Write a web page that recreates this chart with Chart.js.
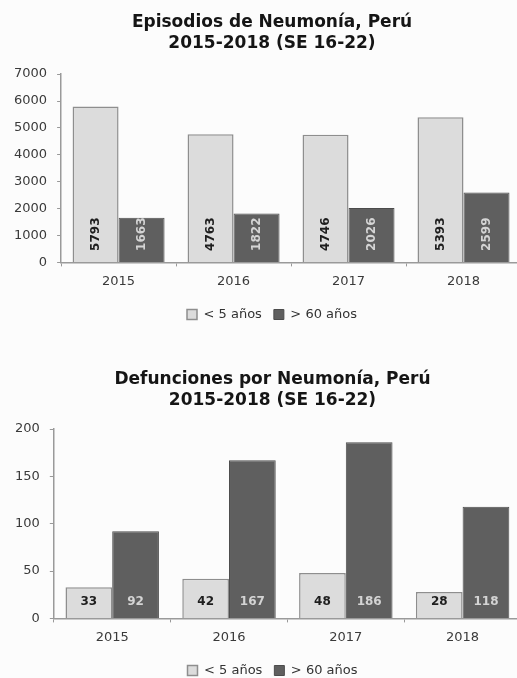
<!DOCTYPE html>
<html>
<head>
<meta charset="utf-8">
<script src="https://cdn.jsdelivr.net/npm/chart.js@4.4.1/dist/chart.umd.min.js"></script>
<style>
  html, body { margin: 0; padding: 0; background: #fcfcfc; overflow: hidden; width: 517px; height: 678px; position: relative; }
  .box { position: absolute; left: 0; width: 540px; }
  #b1 { top: 0; height: 331px; }
  #b2 { top: 330px; height: 357px; }
</style>
</head>
<body>
<div class="box" id="b1"><canvas id="c1"></canvas></div>
<div class="box" id="b2"><canvas id="c2"></canvas></div>
<script>
const years = ['2015', '2016', '2017', '2018'];
const seriesNames = ['< 5 años', '> 60 años'];
const episodiosMenor5 = [5793, 4763, 4746, 5393];
const episodiosMayor60 = [1663, 1822, 2026, 2599];
const defuncionesMenor5 = [33, 42, 48, 28];
const defuncionesMayor60 = [92, 167, 186, 118];
const episodiosTicks = [0, 1000, 2000, 3000, 4000, 5000, 6000, 7000];
const defuncionesTicks = [0, 50, 100, 150, 200];
const title1 = ['Episodios de Neumonía, Perú', '2015-2018 (SE 16-22)'];
const title2 = ['Defunciones por Neumonía, Perú', '2015-2018 (SE 16-22)'];

const LIGHT = '#dcdcdc', LIGHT_B = '#8e8e8e', DARK = '#5f5f5f', DARK_B = '#4c4c4c';
const TICKF = { family: 'DejaVu Sans', size: 13 };

function labelPlugin(rotated) {
  return {
    id: 'barLabels',
    afterDatasetsDraw(chart) {
      const ctx = chart.ctx;
      chart.data.datasets.forEach((ds, di) => {
        const meta = chart.getDatasetMeta(di);
        meta.data.forEach((bar, i) => {
          const v = ds.data[i];
          ctx.save();
          ctx.fillStyle = di === 0 ? '#1e1e1e' : '#d4d4d4';
          ctx.font = 'bold 12px "DejaVu Sans"';
          if (rotated) {
            ctx.translate(bar.x, bar.base - 11);
            ctx.rotate(-Math.PI / 2);
            ctx.textAlign = 'left';
            ctx.textBaseline = 'middle';
            ctx.fillText(String(v), 0, 0);
          } else {
            ctx.textAlign = 'center';
            ctx.textBaseline = 'middle';
            ctx.fillText(String(v), bar.x, bar.base - 16);
          }
          ctx.restore();
        });
      });
    }
  };
}

function makeChart(id, title, a, b, ticks, rotated, pad) {
  const tickSet = ticks.slice();
  new Chart(document.getElementById(id), {
    type: 'bar',
    data: {
      labels: years,
      datasets: [
        { label: seriesNames[0], data: a, backgroundColor: LIGHT, borderColor: LIGHT_B, borderWidth: 1.5 },
        { label: seriesNames[1], data: b, backgroundColor: DARK, borderColor: DARK_B, borderWidth: 1 }
      ]
    },
    options: {
      responsive: true,
      maintainAspectRatio: false,
      animation: false,
      layout: { padding: { left: pad.left, right: 0, top: 0, bottom: pad.bottom } },
      datasets: { bar: { categoryPercentage: 0.8, barPercentage: 1.0 } },
      plugins: {
        title: {
          display: true,
          text: title,
          color: '#151515',
          font: { family: 'DejaVu Sans', size: 17, weight: 'bold', lineHeight: 1.18 },
          padding: { top: pad.titleTop, bottom: pad.titleBottom }
        },
        legend: {
          position: 'bottom',
          labels: {
            boxWidth: 10, boxHeight: 10, color: '#333',
            font: { family: 'DejaVu Sans', size: 13 },
            padding: 12
          }
        },
        tooltip: { enabled: false }
      },
      scales: {
        x: {
          offset: true,
          grid: { display: true, offset: true, drawOnChartArea: false, tickLength: 4, color: '#999' },
          border: { display: true, color: '#9a9a9a', width: 1.5 },
          ticks: { color: '#3a3a3a', font: TICKF, padding: pad.xPad }
        },
        y: {
          min: tickSet[0], max: tickSet[tickSet.length - 1],
          afterBuildTicks: (axis) => { axis.ticks = tickSet.map(v => ({ value: v })); },
          grid: { display: true, drawOnChartArea: false, tickLength: 4, color: '#999' },
          border: { display: true, color: '#9a9a9a', width: 1.5 },
          ticks: { color: '#3a3a3a', font: TICKF, padding: 10, callback: (v) => String(v) }
        },
        ySpacer: {
          position: 'right',
          display: true,
          grid: { display: false },
          border: { display: false },
          ticks: { display: false },
          afterFit: (axis) => { axis.width = 19; }
        }
      }
    },
    plugins: [labelPlugin(rotated)]
  });
}

makeChart('c1', title1, episodiosMenor5, episodiosMayor60, episodiosTicks, true,
  { left: 4, bottom: 0, titleTop: 13, titleBottom: 21, xPad: 7 });
makeChart('c2', title2, defuncionesMenor5, defuncionesMayor60, defuncionesTicks, false,
  { left: 5, bottom: 0, titleTop: 40, titleBottom: 19, xPad: 7 });
</script>
</body>
</html>
